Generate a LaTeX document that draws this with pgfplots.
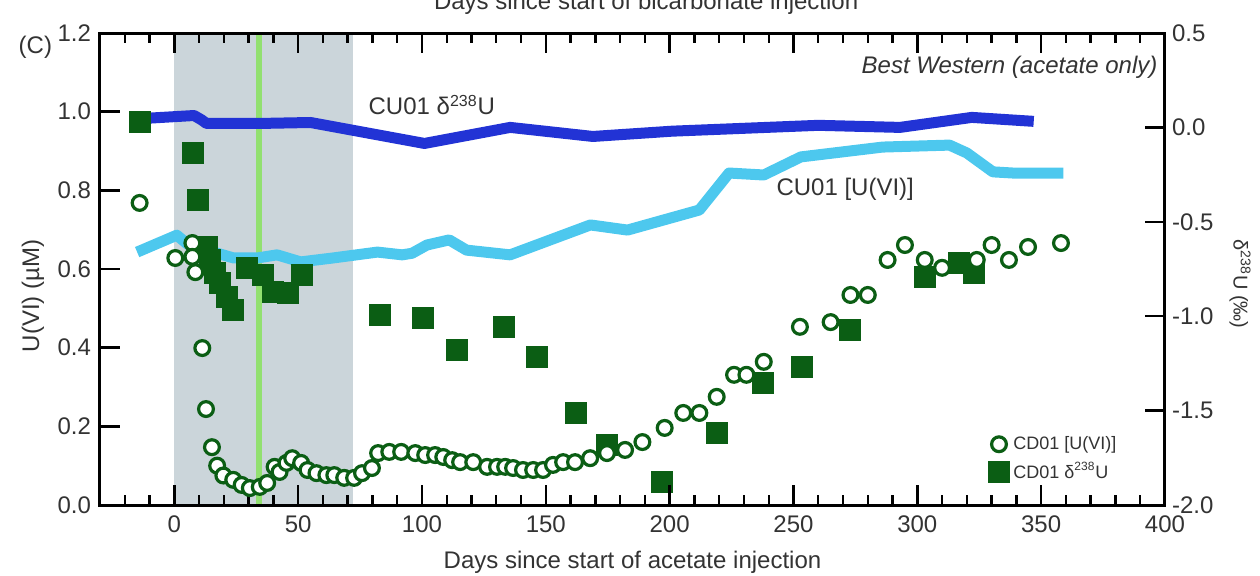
\documentclass[border=0pt]{standalone}
\usepackage{fontspec}
\setmainfont{Liberation Sans}
\usepackage{pgfplots}
\pgfplotsset{compat=1.18}

\definecolor{shade}{HTML}{CBD5DA}
\definecolor{vgreen}{HTML}{92E070}
\definecolor{dblue}{HTML}{2233D5}
\definecolor{lblue}{HTML}{4DC8EE}
\definecolor{dgreen}{HTML}{0B5E14}
\definecolor{txt}{HTML}{333333}

\pgfplotsset{
  base/.style={width=532.5pt, height=236pt, scale only axis, xmin=-30, xmax=400},
  circ/.style={only marks, mark=*, mark size=3.7pt, mark options={draw=dgreen, fill=white, line width=1.6pt}},
  sq/.style={only marks, mark=square*, mark size=5.2pt, mark options={draw=dgreen, fill=dgreen, line width=0.6pt}},
  tk/.style={black, line width=1.2pt, line cap=butt, no markers, forget plot},
}

\begin{document}
\begin{tikzpicture}
% ---------- left axis: U(VI) ----------
\begin{axis}[base, name=ax1, ymin=0, ymax=1.2, axis on top, clip=false,
  tick align=inside,
  xtick={0,50,100,150,200,250,300,350,400},
  xticklabels={0,50,100,150,200,250,300,350,400},
  ytick={0,0.2,0.4,0.6,0.8,1.0,1.2},
  yticklabels={0.0,0.2,0.4,0.6,0.8,1.0,1.2},
  ytick pos=left,
  xticklabel style={yshift=-2pt, font=\fontsize{12}{14}\selectfont, text=txt},
  yticklabel style={xshift=-1pt, font=\fontsize{12}{14}\selectfont, text=txt},
  xlabel={Days since start of acetate injection},
  xlabel style={at={(axis description cs:0.5,-0.1335)}, anchor=base, font=\fontsize{12}{14}\selectfont, text=txt},
  ylabel={U(VI) (µM)},
  ylabel style={at={(axis description cs:-0.063,0.443)}, anchor=center, font=\fontsize{12}{14}\selectfont, text=txt},
  every outer x axis line/.append style={line width=1.5pt},
  every outer y axis line/.append style={line width=1.5pt},
]
\addplot[fill=shade, draw=none, forget plot] coordinates {(0,1.2) (72,1.2)} \closedcycle;
\addplot[vgreen, line width=3pt, forget plot] coordinates {(34,0) (34,1.2)};
\addplot[lblue, line width=5.5pt, line join=round, forget plot] coordinates {
(-15,0.643) (1,0.686) (5,0.665) (9,0.650) (13,0.648) (24,0.628) (33.5,0.628)
(41.5,0.636) (51,0.618) (64,0.628) (82,0.643) (92,0.636) (96,0.640) (102,0.661)
(111,0.674) (118,0.648) (135.6,0.636) (168,0.712) (183,0.699) (212,0.750)
(224,0.844) (238,0.839) (253,0.885) (286,0.910) (313,0.915) (320,0.895)
(330.5,0.847) (338.6,0.844) (359,0.844)};
\node[anchor=base east, inner sep=0pt, text=txt, font=\fontsize{12}{14}\selectfont] at (axis cs:-49.2,1.149) {(C)};
\node[anchor=base east, inner sep=0pt, text=txt, font=\fontsize{12}{14}\selectfont\itshape] at (axis cs:397.1,1.096) {Best Western (acetate only)};
\node[anchor=base west, inner sep=0pt, text=txt, font=\fontsize{12}{14}\selectfont] at (axis cs:78.3,0.992) {CU01 δ\textsuperscript{238}U};
\node[anchor=base west, inner sep=0pt, text=txt, font=\fontsize{12}{14}\selectfont] at (axis cs:243,0.788) {CU01 [U(VI)]};
\node[anchor=base, inner sep=0pt, text=txt, font=\fontsize{12}{14}\selectfont] at (axis cs:190.5,1.2586) {Days since start of bicarbonate injection};
\end{axis}

% ---------- right axis: delta238U ----------
\begin{axis}[base, ymin=-2, ymax=0.5, hide x axis, axis y line*=right, clip=false,
  tick align=inside,
  ytick={-2,-1.5,-1,-0.5,0,0.5},
  yticklabels={-2.0,-1.5,-1.0,-0.5,0.0,0.5},
  yticklabel pos=right,
  yticklabel style={font=\fontsize{12}{14}\selectfont, text=txt},
  y axis line style={line width=1.5pt},
  ylabel={δ\textsuperscript{238}U (‰)},
  ylabel style={at={(axis description cs:1.0704,0.468)}, anchor=center, rotate=180, font=\fontsize{10}{12}\selectfont, text=txt},
]
\addplot[dblue, line width=5.5pt, line join=round, forget plot] coordinates {
(-11.5,0.048) (8,0.063) (11,0.040) (13,0.021) (35,0.021) (55,0.026)
(101,-0.085) (135.6,0.0) (169,-0.048) (201,-0.02) (260,0.011) (293,0.0)
(322,0.053) (347,0.032)};
\addplot[sq, forget plot] coordinates {
(-13.7,0.026) (7.7,-0.137) (9.7,-0.386) (13.3,-0.635) (14.5,-0.70) (16.5,-0.77)
(18.6,-0.825) (21.4,-0.90) (23.8,-0.968) (29.5,-0.746) (36,-0.783) (40,-0.873)
(46,-0.878) (51.7,-0.783) (83,-0.995) (100.6,-1.011) (114,-1.18) (133,-1.058)
(146.5,-1.217) (162,-1.514) (174.7,-1.68) (197,-1.88) (219,-1.62) (237.7,-1.355)
(253.4,-1.27) (273,-1.074) (303,-0.794) (317,-0.72) (323,-0.772)};
% right-axis tick marks (inward), each a short line
\addplot[tk] coordinates {(400,-2) (391.93,-2)};
\addplot[tk] coordinates {(400,-1.5) (391.93,-1.5)};
\addplot[tk] coordinates {(400,-1) (391.93,-1)};
\addplot[tk] coordinates {(400,-0.5) (391.93,-0.5)};
\addplot[tk] coordinates {(400,0) (391.93,0)};
\addplot[tk] coordinates {(400,0.5) (391.93,0.5)};
\end{axis}

% ---------- circles on top, legend, left/bottom/top tick marks ----------
\begin{axis}[base, ymin=0, ymax=1.2, hide axis, clip=false,
  legend style={at={(axis description cs:0.834,0.155)}, anchor=north west,
    draw=none, fill=none, font=\fontsize{9}{10}\selectfont, text=txt,
    row sep=1pt, inner sep=0pt},
  legend cell align=left,
  legend image code/.code={\draw[#1] plot coordinates {(0.2cm,0cm)};},
]
\addplot[circ] coordinates {
(-14,0.768) (0.4,0.628) (7.3,0.666) (7.3,0.631) (8.5,0.592) (11.3,0.399)
(12.8,0.244) (15.2,0.147) (17.3,0.100) (19.8,0.075) (23.8,0.064) (27.2,0.051)
(30.5,0.043) (34.5,0.046) (37.5,0.056) (40.5,0.097) (42.5,0.084) (45.3,0.107)
(47.6,0.119) (51.2,0.107) (53.8,0.089) (57.4,0.081) (61.4,0.076) (64.6,0.076)
(68.6,0.069) (72.6,0.069) (75.8,0.081) (79.8,0.094) (82.3,0.132) (86.8,0.135)
(91.6,0.135) (97.3,0.132) (101.3,0.127) (105.3,0.127) (108.6,0.122) (112.2,0.114)
(115.4,0.109) (120.7,0.109) (126.3,0.097) (130.3,0.097) (133.6,0.097) (136.8,0.094)
(140.8,0.089) (144.9,0.089) (148.9,0.089) (152.9,0.102) (157.0,0.109) (161.8,0.109)
(167.9,0.119) (174.7,0.132) (182.0,0.140) (189.0,0.160) (198.0,0.196) (205.5,0.234)
(212.0,0.234) (219.0,0.275) (226.0,0.331) (231.0,0.331) (238.0,0.364) (252.6,0.453)
(265.0,0.465) (273.0,0.534) (280.0,0.534) (288.0,0.623) (295.0,0.661) (303.0,0.623)
(310.0,0.603) (324.0,0.623) (330.0,0.661) (337.0,0.623) (344.7,0.656) (358.0,0.666)};
\addlegendentry{CD01 [U(VI)]}
\addlegendimage{sq}
\addlegendentry{CD01 δ\textsuperscript{238}U}
% left tick marks (inward)
\addplot[tk] coordinates {(-30,0) (-21.93,0)};
\addplot[tk] coordinates {(-30,0.2) (-21.93,0.2)};
\addplot[tk] coordinates {(-30,0.4) (-21.93,0.4)};
\addplot[tk] coordinates {(-30,0.6) (-21.93,0.6)};
\addplot[tk] coordinates {(-30,0.8) (-21.93,0.8)};
\addplot[tk] coordinates {(-30,1.0) (-21.93,1.0)};
\addplot[tk] coordinates {(-30,1.2) (-21.93,1.2)};
% bottom major
\addplot[tk] coordinates {(0,0) (0,0.0508)};
\addplot[tk] coordinates {(50,0) (50,0.0508)};
\addplot[tk] coordinates {(100,0) (100,0.0508)};
\addplot[tk] coordinates {(150,0) (150,0.0508)};
\addplot[tk] coordinates {(200,0) (200,0.0508)};
\addplot[tk] coordinates {(250,0) (250,0.0508)};
\addplot[tk] coordinates {(300,0) (300,0.0508)};
\addplot[tk] coordinates {(350,0) (350,0.0508)};
% top major
\addplot[tk] coordinates {(0,1.2) (0,1.1492)};
\addplot[tk] coordinates {(50,1.2) (50,1.1492)};
\addplot[tk] coordinates {(100,1.2) (100,1.1492)};
\addplot[tk] coordinates {(150,1.2) (150,1.1492)};
\addplot[tk] coordinates {(200,1.2) (200,1.1492)};
\addplot[tk] coordinates {(250,1.2) (250,1.1492)};
\addplot[tk] coordinates {(300,1.2) (300,1.1492)};
\addplot[tk] coordinates {(350,1.2) (350,1.1492)};
% bottom minor
\addplot[tk] coordinates {(-20,0) (-20,0.0254)};
\addplot[tk] coordinates {(-10,0) (-10,0.0254)};
\addplot[tk] coordinates {(10,0) (10,0.0254)};
\addplot[tk] coordinates {(20,0) (20,0.0254)};
\addplot[tk] coordinates {(30,0) (30,0.0254)};
\addplot[tk] coordinates {(40,0) (40,0.0254)};
\addplot[tk] coordinates {(60,0) (60,0.0254)};
\addplot[tk] coordinates {(70,0) (70,0.0254)};
\addplot[tk] coordinates {(80,0) (80,0.0254)};
\addplot[tk] coordinates {(90,0) (90,0.0254)};
\addplot[tk] coordinates {(110,0) (110,0.0254)};
\addplot[tk] coordinates {(120,0) (120,0.0254)};
\addplot[tk] coordinates {(130,0) (130,0.0254)};
\addplot[tk] coordinates {(140,0) (140,0.0254)};
\addplot[tk] coordinates {(160,0) (160,0.0254)};
\addplot[tk] coordinates {(170,0) (170,0.0254)};
\addplot[tk] coordinates {(180,0) (180,0.0254)};
\addplot[tk] coordinates {(190,0) (190,0.0254)};
\addplot[tk] coordinates {(210,0) (210,0.0254)};
\addplot[tk] coordinates {(220,0) (220,0.0254)};
\addplot[tk] coordinates {(230,0) (230,0.0254)};
\addplot[tk] coordinates {(240,0) (240,0.0254)};
\addplot[tk] coordinates {(260,0) (260,0.0254)};
\addplot[tk] coordinates {(270,0) (270,0.0254)};
\addplot[tk] coordinates {(280,0) (280,0.0254)};
\addplot[tk] coordinates {(290,0) (290,0.0254)};
\addplot[tk] coordinates {(310,0) (310,0.0254)};
\addplot[tk] coordinates {(320,0) (320,0.0254)};
\addplot[tk] coordinates {(330,0) (330,0.0254)};
\addplot[tk] coordinates {(340,0) (340,0.0254)};
\addplot[tk] coordinates {(360,0) (360,0.0254)};
\addplot[tk] coordinates {(370,0) (370,0.0254)};
\addplot[tk] coordinates {(380,0) (380,0.0254)};
\addplot[tk] coordinates {(390,0) (390,0.0254)};
% top minor
\addplot[tk] coordinates {(-20,1.2) (-20,1.1746)};
\addplot[tk] coordinates {(-10,1.2) (-10,1.1746)};
\addplot[tk] coordinates {(10,1.2) (10,1.1746)};
\addplot[tk] coordinates {(20,1.2) (20,1.1746)};
\addplot[tk] coordinates {(30,1.2) (30,1.1746)};
\addplot[tk] coordinates {(40,1.2) (40,1.1746)};
\addplot[tk] coordinates {(60,1.2) (60,1.1746)};
\addplot[tk] coordinates {(70,1.2) (70,1.1746)};
\addplot[tk] coordinates {(80,1.2) (80,1.1746)};
\addplot[tk] coordinates {(90,1.2) (90,1.1746)};
\addplot[tk] coordinates {(110,1.2) (110,1.1746)};
\addplot[tk] coordinates {(120,1.2) (120,1.1746)};
\addplot[tk] coordinates {(130,1.2) (130,1.1746)};
\addplot[tk] coordinates {(140,1.2) (140,1.1746)};
\addplot[tk] coordinates {(160,1.2) (160,1.1746)};
\addplot[tk] coordinates {(170,1.2) (170,1.1746)};
\addplot[tk] coordinates {(180,1.2) (180,1.1746)};
\addplot[tk] coordinates {(190,1.2) (190,1.1746)};
\addplot[tk] coordinates {(210,1.2) (210,1.1746)};
\addplot[tk] coordinates {(220,1.2) (220,1.1746)};
\addplot[tk] coordinates {(230,1.2) (230,1.1746)};
\addplot[tk] coordinates {(240,1.2) (240,1.1746)};
\addplot[tk] coordinates {(260,1.2) (260,1.1746)};
\addplot[tk] coordinates {(270,1.2) (270,1.1746)};
\addplot[tk] coordinates {(280,1.2) (280,1.1746)};
\addplot[tk] coordinates {(290,1.2) (290,1.1746)};
\addplot[tk] coordinates {(310,1.2) (310,1.1746)};
\addplot[tk] coordinates {(320,1.2) (320,1.1746)};
\addplot[tk] coordinates {(330,1.2) (330,1.1746)};
\addplot[tk] coordinates {(340,1.2) (340,1.1746)};
\addplot[tk] coordinates {(360,1.2) (360,1.1746)};
\addplot[tk] coordinates {(370,1.2) (370,1.1746)};
\addplot[tk] coordinates {(380,1.2) (380,1.1746)};
\addplot[tk] coordinates {(390,1.2) (390,1.1746)};
\end{axis}

\pgfresetboundingbox
\path[use as bounding box] (ax1.south west) ++(-50pt,-35pt) rectangle ++(630pt,287.5pt);
\end{tikzpicture}
\end{document}
